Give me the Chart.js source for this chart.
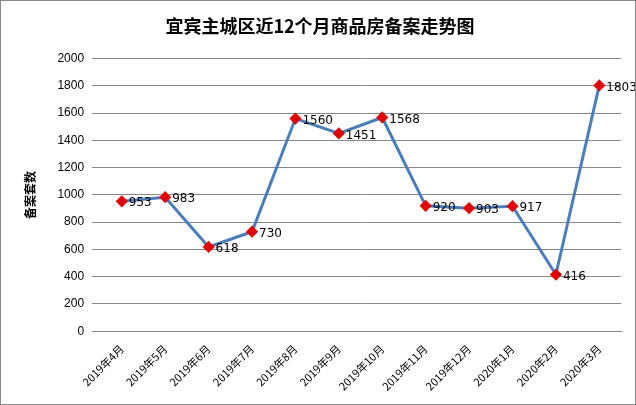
<!DOCTYPE html>
<html>
<head>
<meta charset="utf-8">
<script src="https://cdn.jsdelivr.net/npm/chart.js@4"></script>
<style>
  html, body { margin: 0; padding: 0; background: #fff; }
  #wrap { position: absolute; left: 0; top: 0; width: 634px; height: 403px; border: 1px solid #888; }
</style>
</head>
<body>
<div id="wrap"><canvas id="c" width="634" height="403"></canvas></div>
<script>
const months = ['2019年4月', '2019年5月', '2019年6月', '2019年7月', '2019年8月', '2019年9月',
  '2019年10月', '2019年11月', '2019年12月', '2020年1月', '2020年2月', '2020年3月'];
const filings = [953, 983, 618, 730, 1560, 1451, 1568, 920, 903, 917, 416, 1803];

// Value labels to the right of each marker
const valueLabels = {
  id: 'valueLabels',
  afterDatasetsDraw(chart) {
    const ctx = chart.ctx;
    const meta = chart.getDatasetMeta(0);
    ctx.save();
    ctx.font = '12px "DejaVu Sans", sans-serif';
    ctx.fillStyle = '#000';
    ctx.textBaseline = 'middle';
    meta.data.forEach((pt, i) => {
      ctx.fillText(String(filings[i]), pt.x + 7, pt.y + 2);
    });
    ctx.restore();
  },
};

new Chart(document.getElementById('c'), {
  type: 'line',
  data: {
    labels: months,
    datasets: [{
      data: filings,
      borderColor: '#4a7ebb',
      borderWidth: 3,
      pointStyle: 'rectRot',
      pointRadius: 4,
      pointBackgroundColor: '#e00000',
      pointBorderColor: '#e00000',
      tension: 0,
    }],
  },
  options: {
    responsive: false,
    animation: false,
    layout: { padding: { left: 18, right: 14, top: 6, bottom: 8 } },
    plugins: {
      legend: { display: false },
      tooltip: { enabled: false },
      title: {
        display: true,
        text: '宜宾主城区近12个月商品房备案走势图',
        color: '#000',
        font: { size: 18, weight: 'bold', family: '"Noto Sans CJK SC", sans-serif' },
        padding: { top: 8, bottom: 22 },
      },
    },
    scales: {
      x: {
        offset: true,
        grid: { display: false },
        border: { color: '#888' },
        ticks: {
          color: '#000', maxRotation: 45, minRotation: 45,
          font: { size: 11, family: '"Noto Sans CJK SC", sans-serif' },
        },
      },
      y: {
        min: 0, max: 2000,
        ticks: { stepSize: 200, color: '#000', font: { size: 12 }, padding: 8, callback: (v) => String(v) },
        grid: { color: '#888' },
        border: { display: false },
        title: {
          display: true, text: '备案套数', color: '#000', padding: { bottom: 12 },
          font: { size: 12, weight: 'bold', family: '"Noto Sans CJK SC", sans-serif' },
        },
      },
    },
  },
  plugins: [valueLabels],
});
</script>
</body>
</html>
